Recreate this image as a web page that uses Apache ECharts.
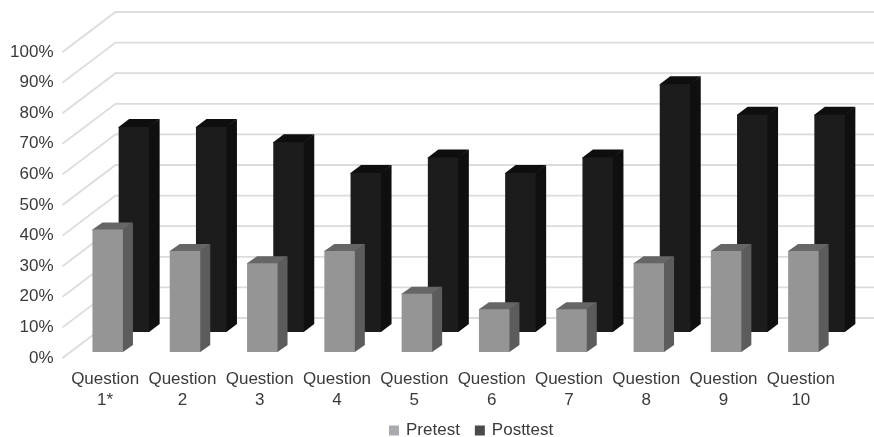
<!DOCTYPE html>
<html>
<head>
<meta charset="utf-8">
<style>
  html, body { margin: 0; padding: 0; background: #fff; }
  #chart { width: 874px; height: 437px; }
</style>
</head>
<body>
<div id="chart"></div>
<script src="https://cdn.jsdelivr.net/npm/echarts@6/dist/echarts.min.js"></script>
<script>
  var categories = ['Question\n1*', 'Question\n2', 'Question\n3', 'Question\n4', 'Question\n5', 'Question\n6', 'Question\n7', 'Question\n8', 'Question\n9', 'Question\n10']
  var pretest = [40, 33, 29, 33, 19, 14, 14, 29, 33, 33]
  var posttest = [67, 67, 62, 52, 57, 52, 57, 81, 71, 71]
  var gridValues = [0, 10, 20, 30, 40, 50, 60, 70, 80, 90, 100]

  var font = '"Liberation Sans", Arial, sans-serif'
  var textColor = '#3a3a3a'

  // fake 3d bar: front face plus top and side, offsets are pixels from the category centre
  function bar3d(opt) {
    return function (params, api) {
      var i = api.value(0)
      var top = api.coord([i, api.value(1)])
      var base = api.coord([i, 0])
      var x0 = top[0] + opt.left
      var x1 = x0 + opt.width
      var x2 = x1 + opt.depthX
      var yt = top[1] + opt.lift
      var yb = base[1] + opt.lift
      var d = opt.depthY
      // side and top reach 1px under the front so nothing shows through the seam
      return {
        type: 'group',
        children: [
          { type: 'polygon', shape: { points: [[x1 - 1, yt], [x2, yt - d], [x2, yb - d], [x1, yb], [x1 - 1, yb]] }, style: { fill: opt.side } },
          { type: 'polygon', shape: { points: [[x0, yt + 1], [x0, yt], [x0 + opt.depthX, yt - d], [x2, yt - d], [x1, yt], [x1, yt + 1]] }, style: { fill: opt.top } },
          { type: 'rect', shape: { x: x0, y: yt, width: opt.width, height: yb - yt }, style: { fill: opt.front } }
        ]
      }
    }
  }

  // gridlines run up the left wall and then along the back wall
  function wallLine(params, api) {
    var p = api.coord([0, api.value(1)])
    var x0 = p[0] - api.size([1, 0])[0] / 2 - 4
    var x1 = x0 + 53
    var y1 = p[1] - 40
    return {
      type: 'polyline',
      shape: { points: [[x0, p[1]], [x1, y1], [api.getWidth(), y1]] },
      style: { stroke: '#dcdcdc', lineWidth: 1.8, fill: null }
    }
  }

  var chart = echarts.init(document.getElementById('chart'))
  chart.setOption({
    backgroundColor: '#fff',
    animation: false,
    grid: { left: 66.5, right: 34.5, top: 52, bottom: 79 },
    legend: {
      data: ['Pretest', 'Posttest'],
      top: 417,
      left: 384,
      icon: 'rect',
      itemWidth: 10,
      itemHeight: 10,
      itemGap: 15,
      textStyle: { color: textColor, fontFamily: font, fontSize: 17, padding: [0, 0, 0, 2] }
    },
    xAxis: {
      type: 'category',
      data: categories,
      axisLine: { show: false },
      axisTick: { show: false },
      axisLabel: { color: textColor, fontFamily: font, fontSize: 17, lineHeight: 21, margin: 11, interval: 0 }
    },
    yAxis: {
      type: 'value',
      min: 0,
      max: 100,
      interval: 10,
      axisLine: { show: false },
      axisTick: { show: false },
      splitLine: { show: false },
      axisLabel: { color: textColor, fontFamily: font, fontSize: 17, margin: 13, formatter: '{value}%' }
    },
    series: [
      {
        name: 'wall',
        type: 'custom',
        silent: true,
        clip: false,
        renderItem: wallLine,
        encode: { x: 0, y: 1 },
        data: gridValues.map(function (v) { return [0, v] })
      },
      {
        name: 'Posttest',
        type: 'custom',
        clip: false,
        itemStyle: { color: '#4a4b4d' },
        renderItem: bar3d({ left: 13.5, width: 30.5, lift: -26, depthX: 10.5, depthY: 8, front: '#1c1c1c', top: '#0e0e0e', side: '#0f0f0f' }),
        encode: { x: 0, y: 1 },
        data: posttest.map(function (v, i) { return [i, v] })
      },
      {
        name: 'Pretest',
        type: 'custom',
        clip: false,
        itemStyle: { color: '#a9abae' },
        renderItem: bar3d({ left: -12.7, width: 30.5, lift: -6, depthX: 10, depthY: 7, front: '#959595', top: '#666666', side: '#5c5c5c' }),
        encode: { x: 0, y: 1 },
        data: pretest.map(function (v, i) { return [i, v] })
      }
    ]
  })
  window.addEventListener('resize', function () { chart.resize() })
</script>
</body>
</html>
